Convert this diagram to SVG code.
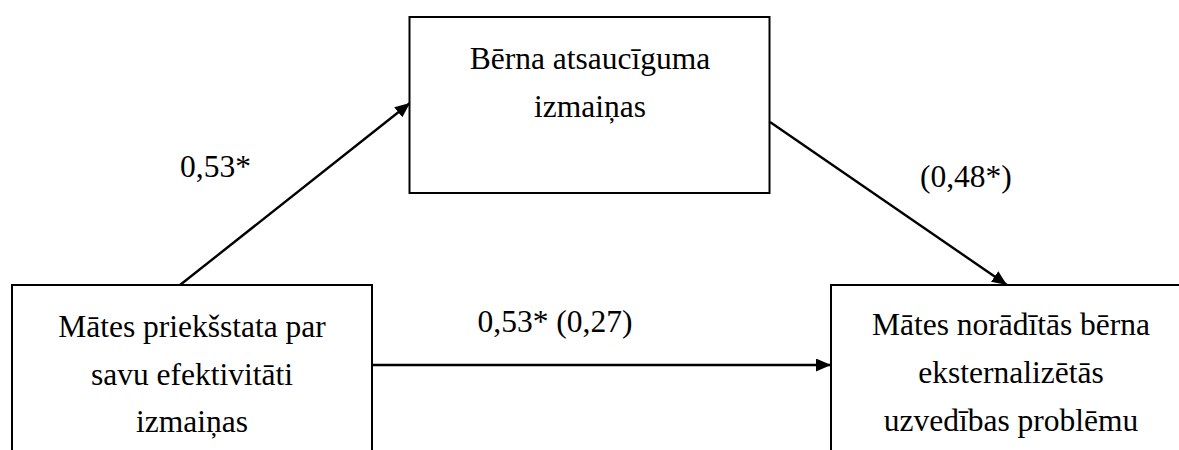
<svg xmlns="http://www.w3.org/2000/svg" width="1179" height="450" viewBox="0 0 1179 450">
  <style>
    .box { fill: #ffffff; stroke: #000000; stroke-width: 2; }
    .mid { text-anchor: middle; }
    .edge { stroke: #000000; stroke-width: 2.4; fill: none; marker-end: url(#head); }
  </style>
  <defs>
    <marker id="head" viewBox="0 0 15 13" refX="15" refY="6.5" markerWidth="15" markerHeight="13" markerUnits="userSpaceOnUse" orient="auto">
      <path d="M0,0 L15,6.5 L0,13 Z" fill="#000000"/>
    </marker>
  </defs>
  <rect width="1179" height="450" fill="#ffffff"/>

  <g font-family="'Liberation Serif', 'Times New Roman', 'DejaVu Serif', serif" font-size="31.5" fill="#000000">
    <g id="connectors">
      <line class="edge" x1="180" y1="285" x2="410" y2="103"/>
      <line class="edge" x1="770" y1="122" x2="1007" y2="285"/>
      <line class="edge" x1="372" y1="365" x2="831" y2="365"/>
      <text x="180" y="177">0,53*</text>
      <text x="920" y="187">(0,48*)</text>
      <text class="mid" x="555" y="332">0,53* (0,27)</text>
    </g>

    <g id="node-mediator">
      <rect class="box" x="409.5" y="17" width="360" height="176"/>
      <text class="mid" x="590" y="69">Bērna atsaucīguma</text>
      <text class="mid" x="590" y="117">izmaiņas</text>
    </g>

    <g id="node-predictor">
      <rect class="box" x="12" y="285" width="360" height="180"/>
      <text class="mid" x="192" y="337">Mātes priekšstata par</text>
      <text class="mid" x="192" y="385">savu efektivitāti</text>
      <text class="mid" x="192" y="432">izmaiņas</text>
    </g>

    <g id="node-outcome">
      <rect class="box" x="831" y="285" width="360" height="180"/>
      <text class="mid" x="1011" y="335">Mātes norādītās bērna</text>
      <text class="mid" x="1011" y="383">eksternalizētās</text>
      <text class="mid" x="1011" y="431">uzvedības problēmu</text>
    </g>
  </g>
</svg>
